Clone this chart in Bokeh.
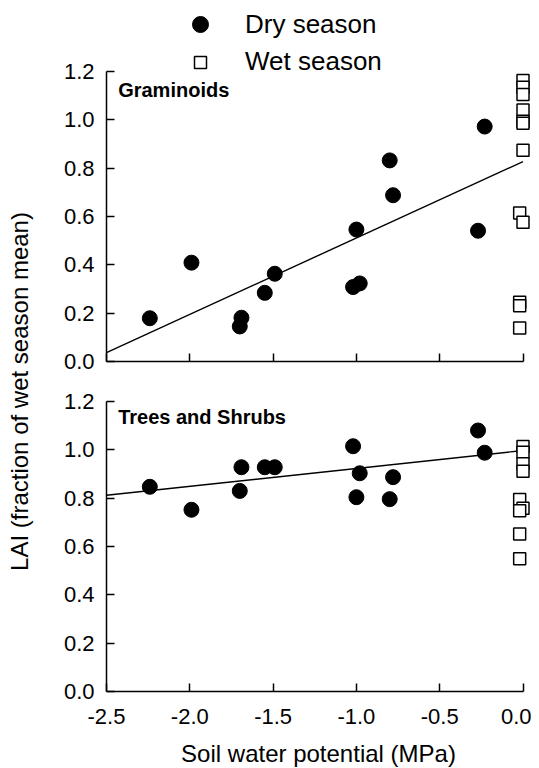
import numpy as np
from bokeh.plotting import figure
from bokeh.models import Range1d, FixedTicker, Legend, LegendItem, Label
from bokeh.layouts import row, column
from bokeh.embed import file_html
from bokeh.resources import INLINE

# ---------------- data ----------------
dry_potential = [-2.24, -1.99, -1.69, -1.70, -1.55, -1.49, -1.02, -0.98, -1.00, -0.80, -0.78, -0.27, -0.23]
gram_dry = [0.179, 0.409, 0.181, 0.145, 0.284, 0.363, 0.308, 0.323, 0.546, 0.832, 0.688, 0.541, 0.972]
tree_dry = [0.847, 0.752, 0.928, 0.830, 0.928, 0.928, 1.015, 0.903, 0.804, 0.796, 0.887, 1.080, 0.988]

gram_wet_potential = [0.0, 0.0, 0.0, 0.0, 0.0, 0.0, 0.0, -0.02, 0.0, -0.02, -0.02, -0.02]
gram_wet = [1.163, 1.135, 1.105, 1.041, 0.994, 0.986, 0.874, 0.614, 0.576, 0.245, 0.231, 0.139]
tree_wet_potential = [0.0, 0.0, 0.0, 0.0, -0.02, 0.0, -0.02, -0.02, -0.02]
tree_wet = [1.014, 0.990, 0.942, 0.911, 0.794, 0.758, 0.748, 0.652, 0.549]

gram_fit = (0.827, 0.316)   # intercept, slope
tree_fit = (0.997, 0.074)
fit_extent = [-2.5, 0.0]

x_ticks = [-2.5, -2.0, -1.5, -1.0, -0.5, 0.0]
x_tick_labels = ["-2.5", "-2.0", "-1.5", "-1.0", "-0.5", "0.0"]
y_ticks = [0.0, 0.2, 0.4, 0.6, 0.8, 1.0, 1.2]
y_tick_labels = ["0.0", "0.2", "0.4", "0.6", "0.8", "1.0", "1.2"]

panel_titles = ["Graminoids", "Trees and Shrubs"]
series_names = ["Dry season", "Wet season"]
x_title = "Soil water potential (MPa)"
y_title = "LAI (fraction of wet season mean)"

FONT = "Liberation Sans"
FRAME_W = 424
X_END = -2.5 + FRAME_W / 166.6


def style_axes(p, show_x_labels):
    xa = p.xaxis[0]
    ya = p.yaxis[0]
    xa.bounds = (x_ticks[0], x_ticks[-1])
    ya.bounds = (y_ticks[0], y_ticks[-1])
    xa.ticker = FixedTicker(ticks=x_ticks)
    ya.ticker = FixedTicker(ticks=y_ticks)
    xa.major_label_overrides = dict(zip(x_ticks, x_tick_labels))
    ya.major_label_overrides = dict(zip(y_ticks, y_tick_labels))
    for ax in (xa, ya):
        ax.axis_line_color = "black"
        ax.axis_line_width = 1.5
        ax.major_tick_line_color = "black"
        ax.major_tick_line_width = 1.5
        ax.major_tick_in = 8
        ax.major_tick_out = 0
        ax.minor_tick_line_color = None
        ax.major_label_text_font = FONT
        ax.major_label_text_font_size = "22px"
        ax.major_label_text_color = "black"
    ya.major_label_standoff = 12
    xa.major_label_standoff = 17
    if not show_x_labels:
        xa.major_label_text_color = None
        xa.major_label_standoff = 0
    p.xgrid.grid_line_color = None
    p.ygrid.grid_line_color = None
    p.outline_line_color = None


def panel(frame_h, y_end, mb_top, mb_bottom, dry_y, wet_x, wet_y, fit, title, title_y, show_x_labels):
    p = figure(frame_width=FRAME_W, frame_height=frame_h,
               x_range=Range1d(-2.5, X_END), y_range=Range1d(0, y_end),
               output_backend="svg", toolbar_location=None,
               min_border_left=68, min_border_right=1,
               min_border_top=mb_top, min_border_bottom=mb_bottom)
    style_axes(p, show_x_labels)
    fx = np.array(fit_extent)
    p.line(fx, fit[0] + fit[1] * fx, line_color="black", line_width=1.4)
    r_dry = p.scatter(dry_potential, dry_y, marker="circle", size=15,
                      fill_color="black", line_color="black")
    r_wet = p.scatter(wet_x, wet_y, marker="square", size=12,
                      fill_color="white", line_color="black", line_width=1.5)
    p.add_layout(Label(x=-2.43, y=title_y, text=title, text_font=FONT,
                       text_font_style="bold", text_font_size="20px",
                       text_baseline="middle", text_color="black"))
    return p, r_dry, r_wet


top, r_dry, r_wet = panel(361, 361 / 241.7, 0, 20, gram_dry, gram_wet_potential, gram_wet,
                          gram_fit, panel_titles[0], 1.125, False)
bottom, _, _ = panel(290, 1.2, 20, 77, tree_dry, tree_wet_potential, tree_wet,
                     tree_fit, panel_titles[1], 1.134, True)
bx = bottom.xaxis[0]
bx.axis_label = x_title
bx.axis_label_text_font = FONT
bx.axis_label_text_font_size = "24px"
bx.axis_label_text_font_style = "normal"
bx.axis_label_text_color = "black"
bx.axis_label_standoff = 13

common = dict(padding=0, margin=0, border_line_color=None, background_fill_alpha=0,
              label_text_font=FONT, label_text_font_size="26px", label_text_color="black")
leg_dry = Legend(items=[LegendItem(label=series_names[0], renderers=[r_dry])],
                 location=(74, 317), glyph_width=40, glyph_height=40, label_standoff=25, **common)
leg_wet = Legend(items=[LegendItem(label=series_names[1], renderers=[r_wet])],
                 location=(79, 284), glyph_width=30, glyph_height=30, label_standoff=30, **common)
top.add_layout(leg_dry)
top.add_layout(leg_wet)

lab = figure(width=38, height=768, x_range=Range1d(0, 38), y_range=Range1d(0, 768),
             output_backend="svg", toolbar_location=None, min_border=0,
             x_axis_type=None, y_axis_type=None)
lab.outline_line_color = None
lab.xgrid.grid_line_color = None
lab.ygrid.grid_line_color = None
lab.add_layout(Label(x=19, y=377, x_units="screen", y_units="screen", text=y_title,
                     angle=90, angle_units="deg", text_align="center", text_baseline="middle",
                     text_font=FONT, text_font_size="24px", text_color="black"))

layout = row(lab, column(top, bottom))
open("out.html", "w").write(file_html(layout, INLINE))
